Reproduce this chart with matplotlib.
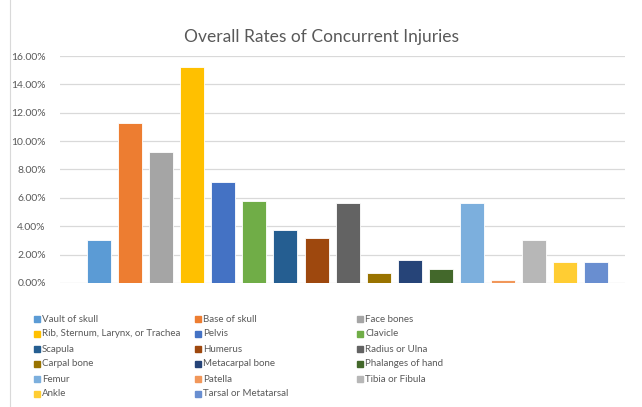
import matplotlib.pyplot as plt
from matplotlib.patches import Rectangle
from matplotlib.ticker import FuncFormatter

plt.rcParams['font.family'] = ['Lato', 'DejaVu Sans']

injuries = ["Vault of skull", "Base of skull", "Face bones",
            "Rib, Sternum, Larynx, or Trachea", "Pelvis", "Clavicle",
            "Scapula", "Humerus", "Radius or Ulna", "Carpal bone",
            "Metacarpal bone", "Phalanges of hand", "Femur", "Patella",
            "Tibia or Fibula", "Ankle", "Tarsal or Metatarsal"]
rates = [3.05, 11.3, 9.2, 15.2, 7.1, 5.8, 3.7, 3.2, 5.65, 0.7,
         1.6, 1.0, 5.65, 0.2, 3.0, 1.48, 1.45]
colors = ["#5B9BD5", "#ED7D31", "#A5A5A5", "#FFC000", "#4472C4", "#70AD47",
          "#255E91", "#9E480E", "#636363", "#997300", "#264478", "#43682B",
          "#7CAFDD", "#F1975A", "#B7B7B7", "#FFCD33", "#698ED0"]
yticks = [0, 2, 4, 6, 8, 10, 12, 14, 16]

fig = plt.figure(figsize=(6.42, 4.07), dpi=100)
ax = fig.add_axes([0.093, 0.3047, 0.881, 0.5577])

ax.bar(range(len(rates)), rates, width=0.77, color=colors,
       edgecolor="white", linewidth=0.6, zorder=3)
ax.set_xlim(-1.26, 16.93)
ax.set_ylim(0, 16)
ax.set_yticks(yticks)
ax.yaxis.set_major_formatter(FuncFormatter(lambda v, p: "%.2f%%" % v))
ax.set_xticks([])
ax.grid(axis="y", color="#D9D9D9", linewidth=0.9, zorder=0)
for s in ax.spines.values():
    s.set_visible(False)
ax.tick_params(axis="y", length=0, labelsize=7.5, labelcolor="#595959", pad=10)

fig.text(0.5, 0.908, "Overall Rates of Concurrent Injuries", ha="center",
         va="center", fontsize=12.5, color="#595959")

# legend, row-major in 3 columns
col_x = [34, 195, 357]
for i, name in enumerate(injuries):
    r, c = divmod(i, 3)
    x = col_x[c]
    y = 319 + r * 15
    fig.patches.append(Rectangle((x / 642, 1 - (y + 3) / 407), 6 / 642, 6 / 407,
                                 transform=fig.transFigure, color=colors[i]))
    fig.text((x + 8) / 642, 1 - y / 407, name, ha="left", va="center",
             fontsize=7, color="#595959")

# chart border
fig.patches.append(Rectangle((10 / 642, -0.01), 1.0, 1.05, transform=fig.transFigure,
                             fill=False, edgecolor="#D9D9D9", linewidth=0.8))

fig.savefig("out.png", dpi=100)
